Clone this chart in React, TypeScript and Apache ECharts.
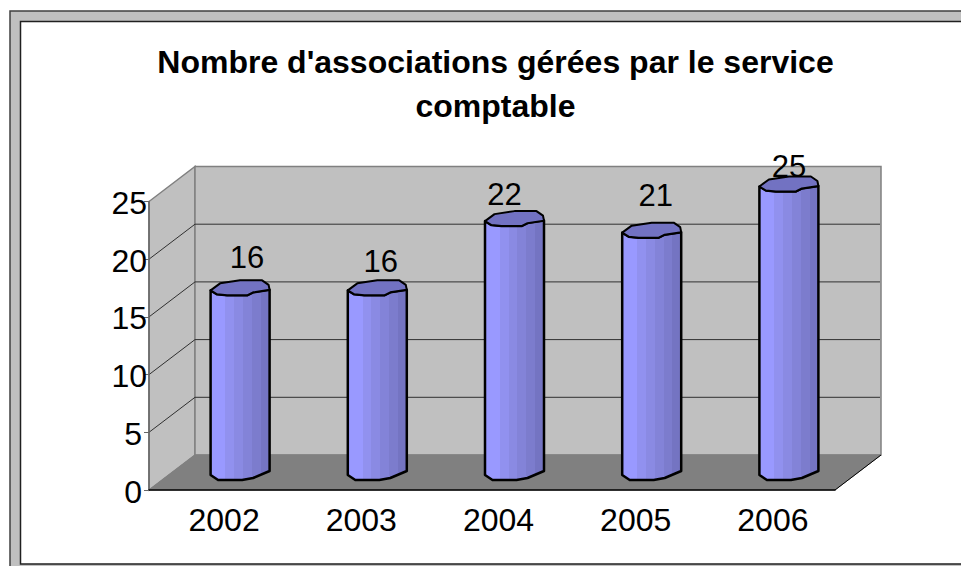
import React, { useEffect, useRef } from "react";
import * as echarts from "echarts";

const TITLE = "Nombre d'associations gérées par le service\ncomptable";
const categories = ["2002", "2003", "2004", "2005", "2006"];
const values = [16, 16, 22, 21, 25];
const yTicks = [5, 10, 15, 20];

// layout
const DX = 46; // depth of the 3D box
const DY = -35;
const FONT = "'Liberation Sans', Arial, sans-serif";
const labelLift = [30, 26.5, 24.5, 35, 17.5];
const labelShift = [7, 3.5, -10, 4, 0];
const topBack = [[-29.5, 2.5], [-20, -4.5], [0, -7.5], [22, -7.5], [28.5, -3], [29.5, 2]];
const topFront = [[29.5, 2], [13, 4.5], [7, 7.5], [-13, 7.5], [-23, 6.5], [-29.5, 2.5]];
const bottomCurve = [[-29.5, 2.5], [-22, 7.5], [2, 7.5], [13, 5.5], [29.5, -1.5]];

const bandColors = ["#9999FF", "#9191EF", "#8A8AE3", "#8383D8", "#7C7CCD", "#7474C2"];
const bandEnds = [0.25, 0.4, 0.55, 0.7, 0.85, 1];

export default function App() {
  const ref = useRef<HTMLDivElement>(null);
  useEffect(() => {
    document.body.style.margin = "0";
    const chart = echarts.init(ref.current!, null, { renderer: "svg" });
    const stops: { offset: number; color: string }[] = [];
    bandColors.forEach((c, i) => {
      stops.push({ offset: i === 0 ? 0 : bandEnds[i - 1], color: c });
      stops.push({ offset: bandEnds[i], color: c });
    });
    chart.setOption({
      animation: false,
      backgroundColor: "#FFFFFF",
      title: {
        text: TITLE,
        left: 490.5,
        top: 35,
        textAlign: "center",
        textStyle: { fontFamily: FONT, fontSize: 32, fontWeight: "bold", color: "#000", lineHeight: 44 },
      },
      grid: { left: 149, right: 126, top: 201.5, bottom: 76 },
      xAxis: {
        type: "category",
        data: categories,
        z: 5,
        axisLine: { lineStyle: { color: "#000", width: 1.5 } },
        axisTick: { length: 6, lineStyle: { color: "#555", width: 1 } },
        axisLabel: { fontFamily: FONT, fontSize: 32, color: "#000", margin: 14, padding: [0, 0, 0, 13] },
        splitLine: { show: false },
      },
      yAxis: {
        type: "value",
        min: 0,
        max: 25,
        interval: 5,
        z: 5,
        axisLine: { show: true, lineStyle: { color: "#666", width: 1.5 } },
        axisTick: { show: true, length: 5, lineStyle: { color: "#666", width: 1 } },
        axisLabel: {
          fontFamily: FONT,
          fontSize: 32,
          color: "#000",
          margin: 2,
          formatter: (v: number) => (v < 10 ? `{s|${v}}` : `{d|${v}}`),
          rich: {
            s: { fontFamily: FONT, fontSize: 32, padding: [3, 5, 0, 0] },
            d: { fontFamily: FONT, fontSize: 32, padding: [3, 0, 0, 0] },
          },
        },
        splitLine: { show: false },
      },
      graphic: [
        { type: "rect", z: 0, shape: { x: 10, y: 11, width: 960, height: 560 }, style: { fill: "#C0C0C0", stroke: "#404040", lineWidth: 1.5 } },
        { type: "rect", z: 1, shape: { x: 20.5, y: 21.5, width: 950, height: 542.5 }, style: { fill: "#FFFFFF", stroke: "#202020", lineWidth: 1.5 } },
      ],
      series: [
        {
          type: "custom",
          name: "walls",
          z: 2,
          silent: true,
          data: [[0, 0]],
          encode: { x: 0, y: 1 },
          renderItem: (params: any, api: any) => {
            const c = params.coordSys;
            const x0 = c.x, x1 = c.x + c.width, yT = c.y, yB = c.y + c.height;
            return {
              type: "group",
              children: [
                { type: "polygon", shape: { points: [[x0, yB], [x0 + DX, yB + DY], [x0 + DX, yT + DY], [x0, yT]] }, style: { fill: "#C0C0C0", stroke: "#808080", lineWidth: 1.5 } },
                { type: "polygon", shape: { points: [[x0 + DX, yB + DY], [x1 + DX, yB + DY], [x1 + DX, yT + DY], [x0 + DX, yT + DY]] }, style: { fill: "#C0C0C0", stroke: "#808080", lineWidth: 1.5 } },
                { type: "polygon", shape: { points: [[x0, yB], [x1, yB], [x1 + DX, yB + DY], [x0 + DX, yB + DY]] }, style: { fill: "#808080", stroke: "#808080", lineWidth: 1 } },
                { type: "line", shape: { x1, y1: yB, x2: x1 + DX, y2: yB + DY }, style: { stroke: "#000", lineWidth: 1 } },
              ],
            };
          },
        },
        {
          type: "custom",
          name: "gridlines",
          z: 3,
          silent: true,
          data: yTicks.map((v) => [0, v]),
          encode: { x: 0, y: 1 },
          renderItem: (params: any, api: any) => {
            const c = params.coordSys;
            const y = api.coord([0, api.value(1)])[1];
            return {
              type: "polyline",
              shape: { points: [[c.x, y], [c.x + DX, y + DY], [c.x + c.width + DX - 1, y + DY]] },
              style: { fill: "none", stroke: "#303030", lineWidth: 1 },
            };
          },
        },
        {
          type: "custom",
          name: "Associations",
          z: 6,
          silent: true,
          data: values.map((v, i) => [i, v]),
          encode: { x: 0, y: 1 },
          renderItem: (params: any, api: any) => {
            const i = api.value(0);
            const [fx, fyTop] = api.coord([i, api.value(1)]);
            const [, fyBase] = api.coord([i, 0]);
            const cx = fx + DX / 2 - 0.5;
            const yTop = fyTop + DY / 2;
            const yBase = fyBase + DY / 2;
            const at = (p: number[], y: number) => [cx + p[0], y + p[1]];
            const body = [...topFront.map((p) => at(p, yTop)), ...bottomCurve.map((p) => at(p, yBase))];
            const top = [...topBack, ...topFront].map((p) => at(p, yTop));
            return {
              type: "group",
              children: [
                {
                  type: "polygon",
                  shape: { points: body },
                  style: {
                    fill: new echarts.graphic.LinearGradient(0, 0, 1, 0, stops),
                    stroke: "#000",
                    lineWidth: 2.5,
                    lineJoin: "round",
                  },
                },
                {
                  type: "polygon",
                  shape: { points: top },
                  style: { fill: "#7272C2", stroke: "#000", lineWidth: 2, lineJoin: "round" },
                },
                {
                  type: "text",
                  style: {
                    x: cx + labelShift[i],
                    y: yTop - labelLift[i],
                    text: String(api.value(1)),
                    fill: "#000",
                    font: `31px ${FONT}`,
                    align: "center",
                    verticalAlign: "middle",
                  },
                },
              ],
            };
          },
        },
      ],
    });
    return () => chart.dispose();
  }, []);
  return <div ref={ref} style={{ position: "absolute", left: 0, top: 0, width: 961, height: 566 }} />;
}
